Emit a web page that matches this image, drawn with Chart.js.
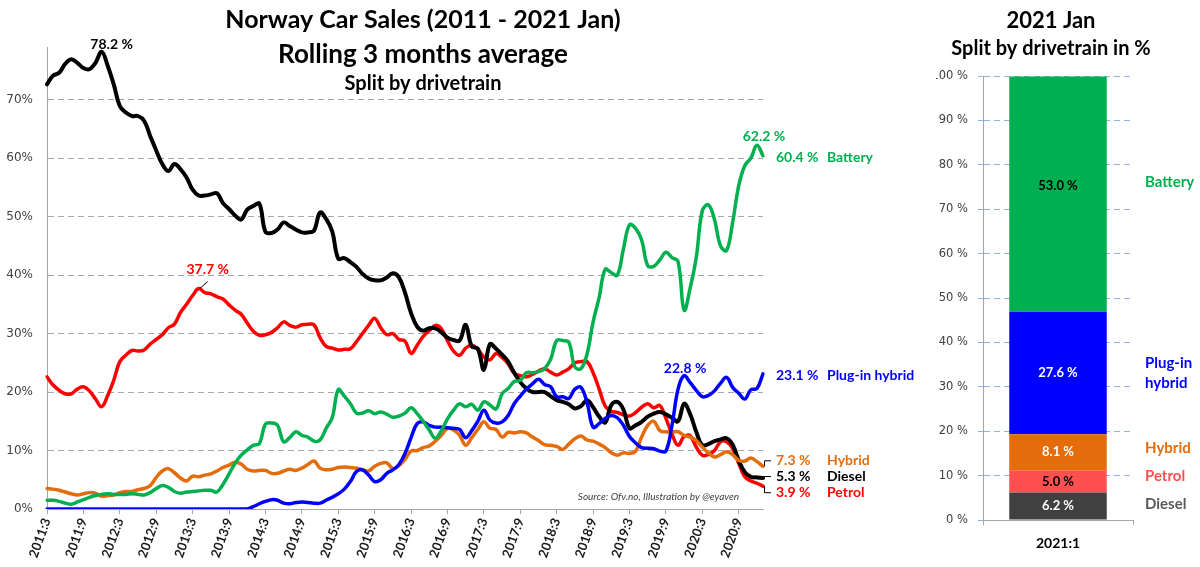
<!DOCTYPE html>
<html>
<head>
<meta charset="utf-8">
<title>Norway Car Sales</title>
<script src="https://cdn.jsdelivr.net/npm/chart.js@4.4.1/dist/chart.umd.min.js"></script>
<style>
  html, body { margin: 0; padding: 0; background: #fff; }
  #wrap { position: relative; width: 1200px; height: 567px; overflow: hidden; }
  #trend { position: absolute; left: 0; top: 0; }
  #split { position: absolute; left: 936px; top: 0; }
</style>
</head>
<body>
<div id="wrap">
  <canvas id="trend" width="936" height="567"></canvas>
  <canvas id="split" width="264" height="567"></canvas>
</div>
<script>
// months on the x axis (rolling 3 month average, 2011:3 .. 2021:1)
const months = [
  '2011:3','2011:4','2011:5','2011:6','2011:7','2011:8','2011:9','2011:10','2011:11','2011:12',
  '2012:1','2012:2','2012:3','2012:4','2012:5','2012:6','2012:7','2012:8','2012:9','2012:10','2012:11','2012:12',
  '2013:1','2013:2','2013:3','2013:4','2013:5','2013:6','2013:7','2013:8','2013:9','2013:10','2013:11','2013:12',
  '2014:1','2014:2','2014:3','2014:4','2014:5','2014:6','2014:7','2014:8','2014:9','2014:10','2014:11','2014:12',
  '2015:1','2015:2','2015:3','2015:4','2015:5','2015:6','2015:7','2015:8','2015:9','2015:10','2015:11','2015:12',
  '2016:1','2016:2','2016:3','2016:4','2016:5','2016:6','2016:7','2016:8','2016:9','2016:10','2016:11','2016:12',
  '2017:1','2017:2','2017:3','2017:4','2017:5','2017:6','2017:7','2017:8','2017:9','2017:10','2017:11','2017:12',
  '2018:1','2018:2','2018:3','2018:4','2018:5','2018:6','2018:7','2018:8','2018:9','2018:10','2018:11','2018:12',
  '2019:1','2019:2','2019:3','2019:4','2019:5','2019:6','2019:7','2019:8','2019:9','2019:10','2019:11','2019:12',
  '2020:1','2020:2','2020:3','2020:4','2020:5','2020:6','2020:7','2020:8','2020:9','2020:10','2020:11','2020:12',
  '2021:1'
];

// share of sales in %, one row per year
const battery = [
  1.5, 1.5, 1.3, 1.0, 0.8, 1.2, 1.6, 2.0, 2.3, 2.5,
  2.6, 2.5, 2.5, 2.5, 2.6, 2.5, 2.4, 2.8, 3.5, 4.0, 3.7, 3.0,
  2.7, 2.9, 3.0, 3.1, 3.2, 3.2, 2.9, 4.2, 6.0, 7.8, 9.2, 10.1,
  10.9, 11.2, 14.5, 14.7, 14.3, 11.5, 12.2, 13.2, 12.6, 12.3, 11.6, 11.8,
  13.8, 15.6, 20.4, 19.3, 18.0, 16.4, 16.4, 16.8, 16.3, 16.6, 16.2, 15.7,
  15.9, 16.4, 17.3, 16.3, 15.0, 13.5, 12.1, 13.4, 15.4, 16.9, 18.0, 17.5,
  17.9, 16.9, 18.3, 17.8, 17.1, 19.7, 20.6, 21.8, 22.0, 23.3, 23.3, 23.5,
  24.0, 25.6, 28.8, 28.8, 28.5, 24.3, 24.0, 26.5, 32.0, 36.2, 41.0, 40.4,
  40.0, 44.5, 48.6, 48.0, 46.0, 41.6, 41.5, 42.6, 43.9, 43.0, 42.3, 34.0,
  37.8, 43.0, 51.0, 52.0, 49.5, 45.0, 44.2, 49.0, 55.3, 58.7, 60.0, 62.2,
  60.4
];
const pluginHybrid = [
  0.0, 0.0, 0.0, 0.0, 0.0, 0.0, 0.0, 0.0, 0.0, 0.0,
  0.0, 0.0, 0.0, 0.0, 0.0, 0.0, 0.0, 0.0, 0.0, 0.0, 0.0, 0.0,
  0.0, 0.0, 0.0, 0.0, 0.0, 0.0, 0.0, 0.0, 0.0, 0.0, 0.0, 0.0,
  0.4, 0.9, 1.3, 1.6, 1.5, 1.0, 0.9, 1.1, 1.2, 1.1, 1.0, 1.0,
  1.5, 2.0, 2.6, 3.4, 4.7, 6.4, 6.7, 5.8, 4.7, 5.0, 6.1, 6.7,
  7.6, 9.5, 12.2, 14.6, 14.9, 14.3, 14.0, 14.0, 13.9, 13.8, 13.6, 12.2,
  13.4, 15.0, 16.9, 15.2, 14.7, 14.9, 16.0, 18.0, 19.3, 20.5, 21.4, 22.2,
  21.3, 20.9, 19.2, 19.2, 18.9, 20.5, 20.8, 18.2, 14.0, 14.6, 15.5, 16.0,
  15.6, 14.3, 12.4, 11.3, 10.5, 10.4, 10.3, 9.9, 9.9, 14.3, 20.5, 22.8,
  21.6, 20.3, 19.2, 19.4, 20.2, 21.5, 22.5, 20.8, 19.8, 18.8, 20.4, 20.6,
  23.1
];
const hybrid = [
  3.5, 3.4, 3.2, 2.9, 2.6, 2.4, 2.6, 2.8, 2.7, 2.2,
  2.3, 2.4, 2.8, 3.0, 3.0, 3.3, 3.5, 4.0, 5.4, 6.5, 6.9, 6.2,
  5.3, 4.8, 5.6, 5.5, 5.8, 6.0, 6.5, 7.1, 7.5, 8.0, 7.7, 6.8,
  6.5, 6.6, 6.6, 6.1, 6.1, 6.5, 6.8, 6.6, 7.0, 7.6, 8.2, 7.0,
  6.7, 6.8, 7.1, 7.2, 7.1, 7.0, 6.7, 6.5, 7.3, 7.8, 7.9, 6.9,
  7.4, 8.5, 9.9, 10.0, 10.5, 10.8, 11.6, 12.6, 13.8, 13.5, 12.6, 10.9,
  12.2, 13.6, 14.9, 13.8, 13.6, 12.3, 13.1, 13.0, 13.2, 13.0, 12.3, 11.7,
  11.0, 10.9, 10.7, 10.2, 11.1, 12.0, 12.5, 11.8, 11.6, 11.1, 10.5, 9.6,
  9.2, 9.6, 9.5, 9.9, 12.3, 14.3, 15.0, 13.4, 13.2, 13.2, 13.2, 12.6,
  12.3, 11.7, 10.6, 9.6, 8.9, 9.3, 9.8, 9.3, 8.3, 8.2, 8.7, 8.1,
  7.3
];
const petrol = [
  22.6, 21.2, 20.3, 19.7, 19.7, 20.5, 20.9, 20.2, 18.8, 17.5,
  19.4, 22.0, 25.2, 26.3, 27.1, 27.0, 27.2, 28.2, 29.0, 29.8, 31.0, 31.6,
  33.6, 35.0, 36.5, 37.7, 37.0, 36.8, 36.3, 35.9, 34.9, 34.0, 33.3, 31.8,
  30.4, 29.7, 29.8, 30.2, 31.0, 32.0, 31.4, 31.1, 31.5, 31.6, 31.5, 29.3,
  27.8, 27.5, 27.2, 27.3, 27.4, 28.6, 30.0, 31.4, 32.6, 31.0, 29.8, 30.0,
  29.0, 28.7, 26.6, 28.0, 29.5, 30.5, 31.4, 30.8, 28.8, 27.0, 26.3, 27.5,
  28.0, 27.3, 26.0, 25.5, 26.6, 25.9, 24.8, 23.2, 22.8, 22.6, 23.0, 23.6,
  24.0, 23.4, 22.9, 23.4, 24.0, 25.0, 25.2, 25.2, 23.3, 20.5, 17.6, 16.7,
  16.5, 16.1, 15.9, 16.5, 17.4, 18.0, 17.3, 17.7, 15.5, 12.8, 10.9, 12.4,
  12.5, 10.6, 9.2, 9.3, 10.0, 11.5, 11.5, 10.3, 7.8, 5.5, 4.8, 4.4,
  3.9
];
const diesel = [
  72.6, 74.1, 74.6, 76.1, 76.9, 76.3, 75.4, 75.2, 76.3, 78.2,
  75.8, 72.6, 68.9, 67.8, 67.2, 67.2, 66.4, 63.8, 61.3, 59.0, 57.8, 59.0,
  58.1, 56.7, 54.6, 53.6, 53.6, 53.8, 54.0, 52.3, 51.3, 50.2, 49.5, 51.2,
  51.8, 52.2, 47.4, 47.2, 47.8, 49.0, 48.4, 47.8, 47.3, 47.3, 47.6, 50.7,
  49.6, 47.5, 42.8, 42.9, 42.2, 41.4, 40.2, 39.4, 39.1, 39.1, 39.6, 40.3,
  39.6, 37.0, 33.5, 31.2, 30.5, 30.9, 30.9, 30.2, 29.3, 28.9, 28.8, 31.5,
  27.8, 27.4, 23.8, 28.2, 27.4, 26.4, 25.2, 23.3, 21.7, 20.6, 20.0, 20.0,
  20.0, 19.3, 18.6, 18.3, 17.9, 17.2, 17.6, 18.6, 17.4, 15.8, 14.8, 17.8,
  18.3, 17.0, 13.8, 14.3, 14.9, 15.8, 16.3, 16.6, 16.2, 15.6, 15.0, 18.0,
  16.2, 13.2, 10.9, 11.1, 11.6, 11.9, 12.1, 11.0, 8.3, 6.3, 5.5, 5.4,
  5.3
];

// y axis ticks of the left chart
const trendTicks = [0, 10, 20, 30, 40, 50, 60, 70];

// 2021 Jan split (stacked bar, bottom to top)
const janCategory = ['2021:1'];
const janNames = ['Diesel', 'Petrol', 'Hybrid', 'Plug-in hybrid', 'Battery'];
const janShares = [6.2, 5.0, 8.1, 27.6, 53.0];

const FONT = 'Lato, "Noto Sans", sans-serif';
const TICKFONT = '"DejaVu Sans", Verdana, sans-serif';

// one entry per line: colour, label offsets for the end-of-line text
const lines = [
  { name: 'Battery', data: battery, color: '#00B050', endDy: 6 },
  { name: 'Plug-in hybrid', data: pluginHybrid, color: '#0000FF', endDy: 6 },
  { name: 'Hybrid', data: hybrid, color: '#E46C0A', endDy: -1, bracket: true },
  { name: 'Diesel', data: diesel, color: '#000000', endDy: 3, bracket: true },
  { name: 'Petrol', data: petrol, color: '#FF0000', endDy: 11, bracket: true }
];

// peak labels: which series, and where the text sits relative to the peak
const peaks = [
  { data: diesel, color: '#000000', dx: 10, dy: -3 },
  { data: petrol, color: '#FF0000', dx: 9, dy: -15, leader: true },
  { data: battery, color: '#00B050', dx: 7, dy: -4 },
  { data: pluginHybrid, color: '#0000FF', dx: 1, dy: -3 }
];

const fmt = v => v.toFixed(1) + ' %';

const trendLabels = {
  id: 'trendLabels',
  afterDraw(chart) {
    const { ctx, chartArea: a, scales: { x, y } } = chart;
    const cx = (a.left + a.right) / 2 + 18;
    ctx.save();
    ctx.textBaseline = 'alphabetic';

    // titles
    ctx.fillStyle = '#000';
    ctx.textAlign = 'center';
    ctx.font = 'bold 25px ' + FONT;
    ctx.fillText('Norway Car Sales (2011 - 2021 Jan)', cx, 28);
    ctx.font = 'bold 26px ' + FONT;
    ctx.fillText('Rolling 3 months average', cx, 63);
    ctx.font = 'bold 20px ' + FONT;
    ctx.fillText('Split by drivetrain', cx, 90);

    // peak values
    ctx.font = 'bold 14px ' + FONT;
    peaks.forEach(p => {
      const body = p.data.slice(0, -1);
      const i = body.indexOf(Math.max(...body));
      const px = x.getPixelForValue(i);
      const py = y.getPixelForValue(p.data[i]);
      ctx.fillStyle = p.color;
      ctx.textAlign = 'center';
      ctx.fillText(fmt(p.data[i]), px + p.dx, py + p.dy);
      if (p.leader) {
        ctx.strokeStyle = '#000';
        ctx.lineWidth = 1;
        ctx.beginPath();
        ctx.moveTo(px + 1, py);
        ctx.lineTo(px + 9, py - 7);
        ctx.stroke();
      }
    });

    // end of line values and names
    ctx.textAlign = 'left';
    lines.forEach(l => {
      const last = l.data[l.data.length - 1];
      const vy = y.getPixelForValue(last);
      const base = vy + l.endDy;
      ctx.fillStyle = l.color;
      ctx.fillText(fmt(last), a.right + 13, base);
      ctx.fillText(l.name, a.right + 64, base);
      if (l.bracket) {
        const mid = base - 4.5;
        ctx.strokeStyle = '#000';
        ctx.lineWidth = 1;
        ctx.beginPath();
        ctx.moveTo(a.right + 1.5, vy);
        ctx.lineTo(a.right + 1.5, mid);
        ctx.lineTo(a.right + 8, mid);
        ctx.stroke();
      }
    });

    // source note
    ctx.fillStyle = '#404040';
    ctx.textAlign = 'right';
    ctx.font = 'italic 10px ' + FONT;
    ctx.fillText('Source: Ofv.no, Illustration by @eyaven', a.right - 24, 500);
    ctx.restore();
  }
};

new Chart(document.getElementById('trend'), {
  type: 'line',
  data: {
    labels: months,
    datasets: lines.map(l => ({
      label: l.name,
      data: l.data,
      borderColor: l.color,
      backgroundColor: l.color,
      borderWidth: l.name === 'Diesel' ? 4 : 3.5,
      pointRadius: 0,
      tension: 0.4,
      fill: false,
      borderJoinStyle: 'round',
      borderCapStyle: 'round'
    }))
  },
  options: {
    responsive: false,
    animation: false,
    devicePixelRatio: 1,
    layout: { padding: { top: 47, right: 173, bottom: 0, left: 0 } },
    plugins: { legend: { display: false }, tooltip: { enabled: false } },
    scales: {
      x: {
        grid: {
          drawOnChartArea: false,
          tickLength: 5,
          tickColor: c => (c.index % 6 === 0 ? '#A6A6A6' : 'rgba(0,0,0,0)')
        },
        border: { color: '#A6A6A6' },
        ticks: {
          autoSkip: false,
          minRotation: 70,
          maxRotation: 70,
          padding: 2,
          color: '#1a1a1a',
          font: { family: FONT, weight: 'bold', size: 13 },
          callback: (v, i) => (i % 6 === 0 ? months[i] : '')
        },
        afterFit: s => { s.height = 58; }
      },
      y: {
        min: 0,
        max: 79,
        afterBuildTicks: s => { s.ticks = trendTicks.map(v => ({ value: v })); },
        grid: {
          drawTicks: false,
          color: c => (c.tick && c.tick.value === 0 ? 'rgba(0,0,0,0)' : '#A6A6A6')
        },
        border: { color: '#A6A6A6', dash: [6, 4] },
        ticks: {
          padding: 14,
          color: '#404040',
          font: { family: TICKFONT, size: 12 },
          callback: v => v + '%'
        },
        afterFit: s => { s.width = 47; }
      }
    }
  },
  plugins: [trendLabels]
});

// ---------- right: 2021 Jan split ----------
const janColors = ['#404040', '#FF5050', '#E46C0A', '#0000FF', '#00B050'];
const janTextColors = ['#FFFFFF', '#000000', '#FFFFFF', '#FFFFFF', '#000000'];
const janNameColors = ['#595959', '#FF5050', '#E46C0A', '#0000FF', '#00B050'];
const janNameLines = [['Diesel'], ['Petrol'], ['Hybrid'], ['Plug-in', 'hybrid'], ['Battery']];
const janNameDy = [-2, -5, -4, -10, -12];

const splitLabels = {
  id: 'splitLabels',
  afterDraw(chart) {
    const { ctx, chartArea: a } = chart;
    const cx = (a.left + a.right) / 2 - 7;
    ctx.save();
    ctx.fillStyle = '#000';
    ctx.textAlign = 'center';
    ctx.textBaseline = 'alphabetic';
    ctx.font = 'bold 22px ' + FONT;
    ctx.fillText('2021 Jan', cx, 28);
    ctx.font = 'bold 20px ' + FONT;
    ctx.fillText('Split by drivetrain in %', cx, 55);

    ctx.textBaseline = 'middle';
    janShares.forEach((v, k) => {
      const bar = chart.getDatasetMeta(k).data[0];
      const my = (bar.y + bar.base) / 2;
      ctx.font = 'bold 13px ' + FONT;
      ctx.textAlign = 'center';
      ctx.fillStyle = janTextColors[k];
      ctx.fillText(fmt(v), bar.x, my + (k === 4 ? -8 : 0));

      ctx.font = 'bold 15px ' + FONT;
      ctx.textAlign = 'left';
      ctx.fillStyle = janNameColors[k];
      const rows = janNameLines[k];
      rows.forEach((t, r) => {
        ctx.fillText(t, a.right + 12, my + janNameDy[k] + r * 20);
      });
    });
    ctx.restore();
  }
};

new Chart(document.getElementById('split'), {
  type: 'bar',
  data: {
    labels: janCategory,
    datasets: janNames.map((n, k) => ({
      label: n,
      data: [janShares[k]],
      backgroundColor: janColors[k],
      categoryPercentage: 1,
      barPercentage: 0.65
    }))
  },
  options: {
    responsive: false,
    animation: false,
    devicePixelRatio: 1,
    layout: { padding: { top: 76, right: 67, bottom: 0, left: 0 } },
    plugins: { legend: { display: false }, tooltip: { enabled: false } },
    scales: {
      x: {
        stacked: true,
        grid: { drawOnChartArea: false, tickLength: 5, color: '#A6A6A6' },
        border: { color: '#A6A6A6' },
        ticks: {
          padding: 10,
          color: '#000',
          font: { family: FONT, weight: 'bold', size: 14 }
        },
        afterFit: s => { s.height = 47; }
      },
      y: {
        stacked: true,
        min: 0,
        max: 100,
        grid: { color: '#8EB4E3', tickLength: 5 },
        border: { color: '#A6A6A6', dash: [6, 4] },
        ticks: {
          stepSize: 10,
          padding: 10,
          color: '#404040',
          font: { family: TICKFONT, size: 11.5 },
          callback: v => v + ' %'
        },
        afterFit: s => { s.width = 47; }
      }
    }
  },
  plugins: [splitLabels]
});
</script>
</body>
</html>
